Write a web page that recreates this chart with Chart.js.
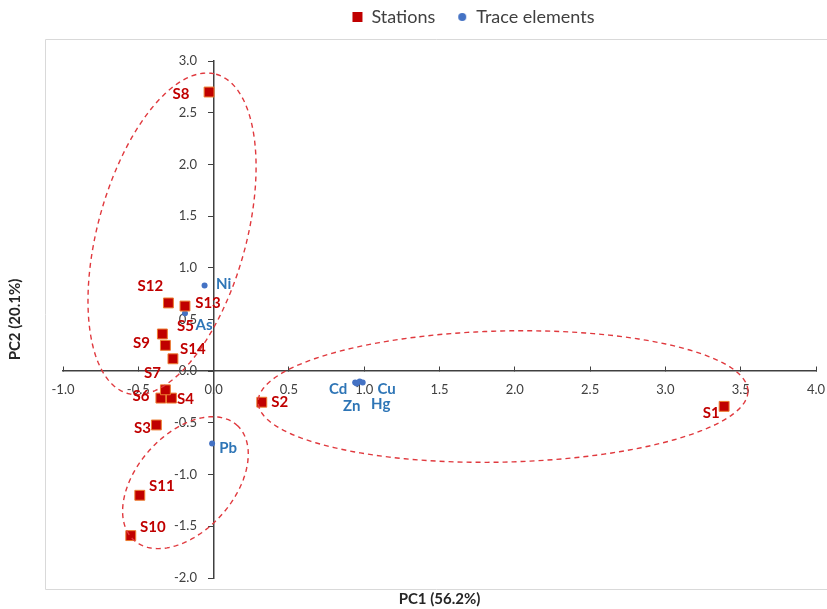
<!DOCTYPE html>
<html lang="en">
<head>
<meta charset="UTF-8">
<title>PCA biplot - stations and trace elements</title>
<script src="https://cdn.jsdelivr.net/npm/chart.js"></script>
<style>
    html, body { margin: 0; padding: 0; background: #ffffff; }
    #wrap { width: 827px; height: 609px; }
</style>
</head>
<body>
<div id="wrap"><canvas id="pcaChart"></canvas></div>
<script>
// station scores (PC1, PC2)
const stationNames = ['S1', 'S2', 'S3', 'S4', 'S5', 'S6', 'S7', 'S8', 'S9', 'S10', 'S11', 'S12', 'S13', 'S14'];
const stationPC1 = [3.39, 0.32, -0.38, -0.28, -0.34, -0.35, -0.32, -0.03, -0.32, -0.55, -0.49, -0.30, -0.19, -0.27];
const stationPC2 = [-0.34, -0.30, -0.52, -0.26, 0.36, -0.26, -0.18, 2.70, 0.25, -1.59, -1.20, 0.66, 0.63, 0.12];

// trace element loadings (PC1, PC2)
const elementNames = ['Ni', 'As', 'Pb', 'Cd', 'Zn', 'Hg', 'Cu'];
const elementPC1 = [-0.06, -0.19, -0.01, 0.94, 0.95, 0.97, 0.99];
const elementPC2 = [0.83, 0.56, -0.70, -0.11, -0.12, -0.10, -0.11];

// axis ranges
const pc1Range = [-1.0, 4.0];
const pc2Range = [-2.0, 3.0];
const tickStep = 0.5;

// dashed groups: centre, end of one semi-axis, end of the conjugate semi-axis (PC units)
const groupCentre = [[-0.276, 1.328], [1.922, -0.245], [-0.187, -1.078]];
const groupAxisA = [[0.017, 2.872], [3.548, -0.190], [0.155, -0.522]];
const groupAxisB = [[0.199, 1.137], [1.912, 0.389], [0.052, -1.391]];

const stationPoints = stationNames.map((n, i) => ({ x: stationPC1[i], y: stationPC2[i], name: n }));
const elementPoints = elementNames.map((n, i) => ({ x: elementPC1[i], y: elementPC2[i], name: n }));

// where each label sits relative to its marker (px)
const labelOffset = {
    S1: [-13, 7], S2: [18, 0], S3: [-14, 3], S4: [14, 1], S5: [23, -8], S6: [-20, -2], S7: [-13, -17],
    S8: [-28, 2], S9: [-24, -2], S10: [22, -8], S11: [22, -9], S12: [-18, -17], S13: [23, -3], S14: [20, -10],
    Ni: [19, -1], As: [19, 12], Pb: [16, 5], Cd: [-17, 7], Zn: [-5, 23], Hg: [21, 23], Cu: [24, 7]
};

const FONT = 'Lato, "Open Sans", sans-serif';

// small round marker for the legend
const legendDot = document.createElement('canvas');
legendDot.width = 10; legendDot.height = 10;
(function () {
    const c = legendDot.getContext('2d');
    c.fillStyle = '#4472C4';
    c.beginPath(); c.arc(5, 5, 4, 0, Math.PI * 2); c.fill();
})();

const groupsPlugin = {
    id: 'groups',
    afterDatasetsDraw(chart) {
        const { ctx, scales: { x, y } } = chart;
        ctx.save();
        ctx.strokeStyle = '#E0393E';
        ctx.lineWidth = 1.4;
        ctx.setLineDash([5, 4]);
        groupCentre.forEach((c, i) => {
            const cx = x.getPixelForValue(c[0]), cy = y.getPixelForValue(c[1]);
            const ax = x.getPixelForValue(groupAxisA[i][0]) - cx, ay = y.getPixelForValue(groupAxisA[i][1]) - cy;
            const bx = x.getPixelForValue(groupAxisB[i][0]) - cx, by = y.getPixelForValue(groupAxisB[i][1]) - cy;
            ctx.beginPath();
            for (let k = 0; k <= 180; k++) {
                const t = k / 180 * Math.PI * 2;
                const px = cx + ax * Math.cos(t) + bx * Math.sin(t);
                const py = cy + ay * Math.cos(t) + by * Math.sin(t);
                if (k === 0) ctx.moveTo(px, py); else ctx.lineTo(px, py);
            }
            ctx.stroke();
        });
        ctx.restore();
    }
};

const labelsPlugin = {
    id: 'pointLabels',
    afterDatasetsDraw(chart) {
        const ctx = chart.ctx;
        ctx.save();
        ctx.font = 'bold 15px ' + FONT;
        ctx.textAlign = 'center';
        ctx.textBaseline = 'middle';
        chart.data.datasets.forEach((ds, d) => {
            const meta = chart.getDatasetMeta(d);
            ctx.fillStyle = d === 0 ? '#C00000' : '#2E75B6';
            meta.data.forEach((pt, i) => {
                const name = ds.data[i].name;
                const off = labelOffset[name] || [0, 0];
                ctx.fillText(name, pt.x + off[0], pt.y + off[1]);
            });
        });
        ctx.restore();
    }
};

const frameAndLegendPlugin = {
    id: 'frame',
    afterLayout(chart) {
        // legend sits a bit right of centre and close to the top edge
        const lg = chart.legend, area = chart.chartArea;
        const w = lg.right - lg.left;
        const mid = (area.left + area.right) / 2 + 34;
        lg.left = mid - w / 2;
        lg.right = mid + w / 2;
        lg.top -= 25;
        lg.bottom -= 25;
    },
    beforeDraw(chart) {
        const { ctx, chartArea: a } = chart;
        ctx.save();
        ctx.strokeStyle = '#D9D9D9';
        ctx.lineWidth = 1;
        ctx.beginPath();
        ctx.moveTo(chart.width + 1, a.top - 21.5);
        ctx.lineTo(a.left - 17.5, a.top - 21.5);
        ctx.lineTo(a.left - 17.5, a.bottom + 11.5);
        ctx.lineTo(chart.width + 1, a.bottom + 11.5);
        ctx.stroke();
        ctx.restore();
    }
};

const xTickFmt = v => Number(v).toFixed(1);
// y labels hug the axis when it is placed at x = 0, trailing spaces keep a gap
const yTickFmt = v => Number(v).toFixed(1) + '     ';

new Chart(document.getElementById('pcaChart'), {
    type: 'scatter',
    data: {
        datasets: [
            {
                label: 'Stations',
                data: stationPoints,
                xAxisID: 'x', yAxisID: 'y',
                pointStyle: 'rect',
                pointRadius: 7,
                backgroundColor: '#C00000',
                borderColor: '#ED7D31',
                borderWidth: 1
            },
            {
                label: 'Trace elements',
                data: elementPoints,
                xAxisID: 'x', yAxisID: 'y',
                pointStyle: 'circle',
                pointRadius: 3,
                backgroundColor: '#4472C4',
                borderColor: '#4472C4',
                borderWidth: 0
            }
        ]
    },
    options: {
        responsive: true,
        maintainAspectRatio: false,
        animation: false,
        layout: { padding: { top: 11, left: 0, right: 11, bottom: 0 } },
        plugins: {
            tooltip: { enabled: false },
            legend: {
                position: 'top',
                labels: {
                    usePointStyle: true,
                    boxWidth: 10,
                    boxHeight: 10,
                    padding: 22,
                    color: '#404040',
                    font: { family: FONT, size: 18 },
                    generateLabels(chart) {
                        const items = Chart.defaults.plugins.legend.labels.generateLabels(chart);
                        items.forEach(it => {
                            it.strokeStyle = it.fillStyle;
                            it.lineWidth = 0;
                            if (it.datasetIndex === 1) it.pointStyle = legendDot;
                        });
                        return items;
                    }
                }
            }
        },
        scales: {
            x: {
                type: 'linear',
                position: { y: 0 },
                min: pc1Range[0], max: pc1Range[1],
                grid: { drawOnChartArea: false, drawTicks: true, tickLength: -5, color: '#404040' },
                border: { color: '#404040', width: 1.5 },
                ticks: { stepSize: tickStep, callback: xTickFmt, padding: 16, color: '#404040', font: { family: FONT, size: 13 } },
                afterFit(scale) { scale.paddingLeft = 0; scale.paddingRight = 0; }
            },
            y: {
                type: 'linear',
                position: { x: 0 },
                min: pc2Range[0], max: pc2Range[1],
                grid: { drawOnChartArea: false, drawTicks: true, tickLength: 5, color: '#404040' },
                border: { color: '#404040', width: 1.5 },
                ticks: { stepSize: tickStep, callback: yTickFmt, color: '#404040', font: { family: FONT, size: 13 } }
            },
            xTitle: {
                type: 'linear',
                axis: 'x',
                position: 'bottom',
                grid: { display: false, drawTicks: false },
                border: { display: false },
                ticks: { display: false },
                title: { display: true, text: 'PC1 (56.2%)', color: '#262626', font: { family: FONT, size: 15, weight: 'bold' }, padding: { top: 12, bottom: 1 } }
            },
            yTitle: {
                type: 'linear',
                axis: 'y',
                position: 'left',
                grid: { display: false, drawTicks: false },
                border: { display: false },
                ticks: { display: false },
                title: { display: true, text: 'PC2 (20.1%)', color: '#262626', font: { family: FONT, size: 15, weight: 'bold' }, padding: { top: 6, bottom: 39 } }
            }
        }
    },
    plugins: [frameAndLegendPlugin, groupsPlugin, labelsPlugin]
});
</script>
</body>
</html>
